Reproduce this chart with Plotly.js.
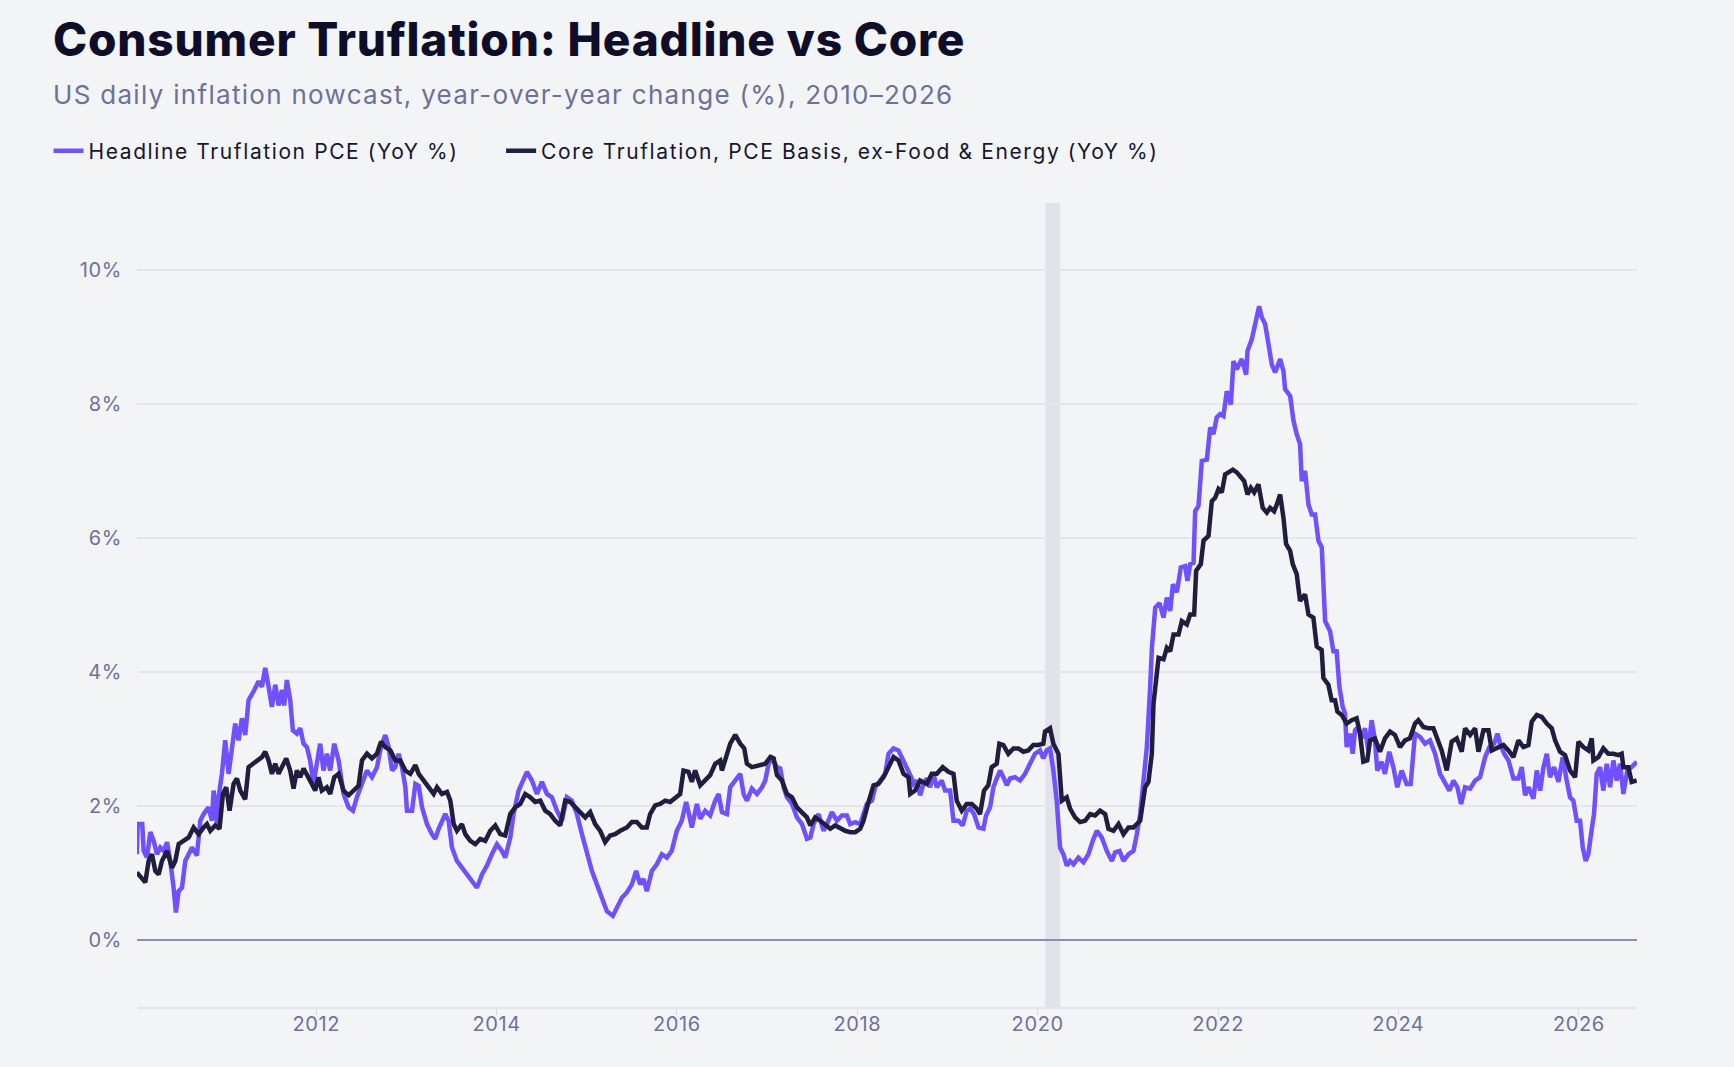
<!DOCTYPE html>
<html>
<head>
<meta charset="utf-8">
<script src="https://cdn.plot.ly/plotly-3.0.1.min.js"></script>
<style>
  html, body { margin: 0; padding: 0; background: #f3f4f6; }
  #chart { width: 1734px; height: 1067px; }
  .gtitle { letter-spacing: 0.8px; }
  .annotation-text { letter-spacing: 1.3px; }
  .legendtext { letter-spacing: 1.6px; }
  .xtick text, .ytick text { letter-spacing: 0.6px; }
</style>
</head>
<body>
<div id="chart"></div>
<script>
// ---- Data (decimal years, YoY %) ----
const headlineYears = [
2010.01,2010.02,2010.07,2010.086,2010.123,2010.160,2010.197,2010.234,2010.271,2010.308,2010.345,2010.381,2010.418,2010.444,2010.474,2010.511,2010.548,2010.585,2010.622,2010.677,2010.714,2010.751,2010.806,2010.843,2010.862,2010.899,2010.917,2010.954,2010.991,2011.028,2011.065,2011.102,2011.139,2011.176,2011.213,2011.250,2011.305,2011.361,2011.398,2011.435,2011.472,2011.509,2011.546,2011.583,2011.620,2011.645,2011.675,2011.712,2011.741,2011.786,2011.823,2011.860,2011.897,2011.933,2011.970,2012.007,2012.044,2012.081,2012.118,2012.155,2012.200,2012.248,2012.303,2012.359,2012.407,2012.451,2012.507,2012.562,2012.617,2012.673,2012.717,2012.765,2012.802,2012.839,2012.876,2012.913,2012.950,2012.987,2013.005,2013.061,2013.098,2013.135,2013.172,2013.227,2013.282,2013.319,2013.356,2013.393,2013.430,2013.467,2013.504,2013.559,2013.615,2013.670,2013.726,2013.781,2013.837,2013.892,2013.947,2014.003,2014.058,2014.095,2014.151,2014.188,2014.243,
2014.336,2014.391,2014.447,2014.502,2014.558,2014.613,2014.668,2014.724,2014.779,2014.835,2014.890,2014.946,2015.001,2015.057,2015.112,2015.167,2015.223,2015.289,2015.334,2015.389,2015.445,2015.500,2015.548,2015.592,2015.629,2015.666,2015.722,2015.777,2015.833,2015.888,2015.943,2015.999,2016.054,2016.102,2016.128,2016.165,2016.221,2016.258,2016.313,2016.368,2016.424,2016.461,2016.498,2016.553,2016.590,2016.646,2016.701,2016.738,2016.775,2016.830,2016.886,2016.941,2016.978,2017.015,2017.052,2017.107,2017.144,2017.181,2017.218,2017.274,2017.329,2017.385,2017.440,2017.477,2017.514,2017.569,2017.625,2017.662,2017.717,2017.773,2017.828,2017.883,2017.920,2017.976,2018.031,2018.068,2018.105,2018.161,2018.198,2018.253,2018.308,2018.345,2018.401,2018.456,2018.493,2018.549,2018.604,
2018.622,2018.659,2018.696,2018.733,2018.770,2018.807,2018.844,2018.881,2018.936,2018.973,2019.029,2019.066,2019.121,2019.169,2019.214,2019.251,2019.295,2019.343,2019.398,2019.428,2019.472,2019.509,2019.546,2019.583,2019.620,2019.657,2019.694,2019.749,2019.805,2019.860,2019.915,2019.971,2020.026,2020.063,2020.100,2020.137,2020.174,2020.211,2020.248,2020.285,2020.322,2020.359,2020.396,2020.451,2020.507,2020.562,2020.610,2020.655,2020.710,2020.765,2020.821,2020.858,2020.906,2020.950,2021.006,2021.061,2021.098,2021.135,2021.172,2021.209,2021.246,
2021.265,2021.302,2021.350,2021.394,2021.431,2021.468,2021.498,2021.542,2021.586,2021.634,2021.660,2021.690,2021.727,2021.745,2021.782,2021.819,2021.875,2021.912,2021.948,2021.985,2022.022,2022.059,2022.096,2022.141,2022.170,2022.207,2022.263,2022.311,2022.326,2022.374,2022.411,2022.455,2022.485,2022.522,2022.559,2022.595,2022.632,2022.688,2022.725,2022.743,2022.799,2022.836,2022.872,2022.909,2022.928,2022.965,2023.002,2023.039,2023.076,2023.113,2023.150,2023.187,2023.242,2023.279,
2023.315,2023.345,2023.382,2023.408,2023.426,2023.463,2023.493,2023.519,2023.556,2023.593,2023.629,2023.666,2023.703,2023.740,2023.766,2023.814,2023.851,2023.899,2023.944,2023.988,2024.036,2024.091,2024.136,2024.184,2024.239,2024.295,2024.350,2024.406,2024.461,2024.516,2024.564,2024.609,2024.653,2024.694,2024.738,2024.794,2024.849,2024.904,2024.960,2025.008,2025.060,2025.097,2025.126,2025.171,2025.219,2025.274,2025.329,2025.366,2025.403,2025.440,2025.496,2025.533,2025.570,2025.607,2025.644,2025.680,2025.725,2025.773,2025.821,2025.865,2025.902,2025.939,2025.976,2026.013,2026.043,2026.076,2026.105,2026.135,2026.168,2026.198,2026.235,2026.272,2026.309,2026.346,2026.383,2026.420,2026.457,2026.494,2026.538,2026.586,2026.641
];
const headlineValues = [
1.28,1.73,1.73,1.33,1.23,1.61,1.48,1.28,1.38,1.33,1.46,1.18,0.78,0.41,0.73,0.78,1.18,1.28,1.38,1.26,1.78,1.88,1.98,1.78,2.23,1.73,2.13,2.48,2.98,2.48,2.93,3.23,2.98,3.31,3.06,3.58,3.71,3.86,3.78,4.06,3.78,3.48,3.81,3.50,3.73,3.50,3.88,3.58,3.13,3.08,3.16,2.93,2.88,2.68,2.33,2.68,2.93,2.53,2.78,2.53,2.93,2.68,2.18,1.98,1.93,2.13,2.33,2.53,2.43,2.58,2.88,3.06,2.88,2.53,2.58,2.78,2.58,2.28,1.93,1.93,2.33,2.30,1.98,1.73,1.58,1.51,1.66,1.78,1.88,1.78,1.38,1.18,1.08,0.98,0.86,0.78,0.98,1.11,1.28,1.43,1.33,1.23,1.53,1.88,2.23,
2.51,2.38,2.18,2.36,2.18,2.13,1.93,1.78,2.13,2.08,1.88,1.58,1.28,1.03,0.83,0.63,0.43,0.36,0.48,0.63,0.71,0.83,1.03,0.83,0.91,0.73,1.03,1.13,1.28,1.23,1.33,1.63,1.78,2.06,1.91,1.68,2.03,1.81,1.93,1.86,2.08,2.18,1.91,1.88,2.28,2.38,2.48,2.18,2.08,2.26,2.18,2.28,2.38,2.63,2.71,2.58,2.56,2.28,2.13,2.03,1.83,1.73,1.51,1.53,1.73,1.88,1.63,1.73,1.91,1.78,1.86,1.86,1.73,1.76,1.73,1.88,2.03,2.08,2.28,2.38,2.48,2.78,2.86,2.83,2.73,2.58,2.41,
2.33,2.38,2.16,2.33,2.41,2.28,2.48,2.28,2.38,2.23,2.23,1.78,1.78,1.71,1.93,1.96,1.88,1.68,1.66,1.86,1.98,2.28,2.41,2.53,2.43,2.31,2.41,2.43,2.38,2.48,2.63,2.78,2.83,2.71,2.83,2.86,2.53,2.08,1.38,1.28,1.11,1.18,1.13,1.23,1.16,1.28,1.48,1.63,1.53,1.33,1.18,1.31,1.33,1.18,1.28,1.33,1.58,1.88,2.38,2.88,3.78,
4.36,4.96,5.03,4.81,5.11,4.91,5.31,5.19,5.56,5.58,5.36,5.61,5.63,6.40,6.48,7.15,7.17,7.65,7.55,7.80,7.85,7.82,8.19,7.99,8.64,8.52,8.67,8.44,8.79,8.97,9.19,9.46,9.29,9.19,8.89,8.59,8.47,8.67,8.49,8.22,8.12,7.75,7.55,7.40,6.85,7.00,6.50,6.35,6.35,5.96,5.86,4.76,4.61,4.31,
4.31,3.78,3.48,3.38,2.88,3.08,2.78,3.13,3.18,3.01,3.16,2.83,3.28,2.98,2.53,2.66,2.48,2.81,2.58,2.28,2.53,2.33,2.33,3.08,3.03,2.93,2.98,2.78,2.48,2.33,2.23,2.38,2.28,2.03,2.28,2.26,2.38,2.43,2.73,2.88,2.93,3.08,2.93,2.78,2.68,2.41,2.41,2.58,2.16,2.28,2.11,2.53,2.23,2.58,2.78,2.43,2.58,2.36,2.73,2.38,2.13,2.08,1.78,1.78,1.38,1.18,1.28,1.58,1.88,2.48,2.58,2.23,2.63,2.28,2.68,2.38,2.63,2.18,2.53,2.58,2.66
];

const coreYears = [
2010.01,2010.067,2010.104,2010.141,2010.178,2010.215,2010.252,2010.289,2010.345,2010.400,2010.437,2010.474,2010.529,2010.585,2010.640,2010.696,2010.751,2010.788,2010.825,2010.880,2010.928,2010.965,2011.002,2011.039,2011.084,2011.121,2011.158,2011.213,2011.250,2011.305,2011.361,2011.398,2011.435,2011.472,2011.509,2011.546,2011.583,2011.620,2011.668,2011.712,2011.749,2011.786,2011.823,2011.860,2011.897,2011.952,2011.989,2012.026,2012.063,2012.118,2012.155,2012.200,2012.248,2012.303,2012.359,2012.414,2012.469,2012.507,2012.562,2012.617,2012.673,2012.717,2012.765,2012.821,2012.876,2012.931,2012.987,2013.042,2013.098,2013.135,2013.190,2013.245,2013.301,2013.338,2013.393,2013.449,2013.486,2013.523,2013.559,2013.615,2013.652,2013.707,2013.763,2013.818,2013.874,2013.929,2013.985,2014.040,2014.095,2014.151,2014.206,2014.262,
2014.317,2014.373,2014.428,2014.484,2014.539,2014.595,2014.650,2014.705,2014.761,2014.816,2014.872,2014.927,2014.983,2015.038,2015.093,2015.149,2015.204,2015.260,2015.315,2015.371,2015.445,2015.500,2015.555,2015.611,2015.666,2015.703,2015.759,2015.814,2015.870,2015.925,2015.980,2016.036,2016.073,2016.128,2016.165,2016.202,2016.258,2016.313,2016.368,2016.424,2016.479,2016.498,2016.535,2016.590,2016.646,2016.701,2016.745,2016.775,2016.830,2016.904,2016.978,2017.034,2017.071,2017.108,2017.163,2017.218,2017.274,2017.329,2017.385,2017.440,2017.477,2017.532,2017.588,2017.643,2017.699,2017.754,2017.810,2017.865,2017.920,2017.976,2018.031,2018.068,2018.124,2018.179,2018.235,2018.290,2018.345,2018.401,2018.456,2018.512,2018.567,2018.586,
2018.640,2018.696,2018.770,2018.825,2018.881,2018.947,2019.010,2019.066,2019.102,2019.158,2019.213,2019.269,2019.324,2019.361,2019.405,2019.453,2019.490,2019.546,2019.575,2019.620,2019.675,2019.731,2019.786,2019.841,2019.897,2019.952,2020.008,2020.063,2020.082,2020.137,2020.174,2020.230,2020.267,2020.322,2020.359,2020.414,2020.470,2020.525,2020.581,2020.636,2020.691,2020.747,2020.784,2020.839,2020.895,2020.950,2021.006,2021.061,2021.135,2021.190,2021.227,2021.264,2021.283,
2021.320,2021.339,2021.394,2021.431,2021.468,2021.505,2021.561,2021.597,2021.653,2021.690,2021.734,2021.756,2021.808,2021.838,2021.893,2021.930,2021.967,2022.004,2022.041,2022.078,2022.115,2022.163,2022.207,2022.252,2022.289,2022.326,2022.363,2022.400,2022.447,2022.495,2022.540,2022.577,2022.621,2022.651,2022.688,2022.725,2022.754,2022.799,2022.828,2022.872,2022.909,2022.965,2023.002,2023.057,
2023.094,2023.149,2023.168,2023.223,2023.260,2023.297,2023.323,2023.371,2023.426,2023.482,2023.537,2023.574,2023.611,2023.655,2023.685,2023.740,2023.796,2023.851,2023.907,2023.962,2024.018,2024.073,2024.128,2024.184,2024.221,2024.276,2024.332,2024.387,2024.424,2024.479,2024.535,2024.590,2024.646,2024.701,2024.738,2024.794,2024.849,2024.886,2024.941,2024.997,2025.034,2025.089,2025.163,2025.219,2025.274,2025.329,2025.385,2025.440,2025.477,2025.533,2025.588,2025.644,2025.699,2025.736,2025.791,2025.847,2025.902,2025.958,2025.995,2026.050,2026.105,2026.143,2026.161,2026.216,2026.272,2026.327,2026.383,2026.438,2026.475,2026.494,2026.549,2026.586,2026.641
];
const coreValues = [
1.01,0.93,0.86,1.18,1.28,1.03,0.98,1.18,1.33,1.08,1.18,1.43,1.48,1.53,1.68,1.58,1.68,1.73,1.63,1.71,1.66,2.18,2.28,1.93,2.33,2.41,2.23,2.10,2.58,2.63,2.68,2.73,2.81,2.68,2.48,2.63,2.48,2.58,2.71,2.53,2.26,2.53,2.43,2.56,2.48,2.33,2.23,2.43,2.23,2.28,2.18,2.43,2.48,2.23,2.16,2.23,2.30,2.68,2.78,2.71,2.78,2.96,2.88,2.83,2.68,2.68,2.53,2.48,2.61,2.48,2.38,2.28,2.18,2.28,2.18,2.21,2.08,1.73,1.63,1.73,1.58,1.48,1.43,1.51,1.48,1.63,1.71,1.58,1.56,1.88,1.98,2.03,
2.18,2.13,2.06,2.08,1.93,1.88,1.78,1.71,2.08,2.06,1.98,1.91,1.83,1.91,1.73,1.63,1.46,1.56,1.58,1.63,1.68,1.76,1.76,1.68,1.68,1.88,2.01,2.03,2.08,2.06,2.13,2.18,2.53,2.51,2.36,2.53,2.31,2.38,2.46,2.63,2.68,2.53,2.71,2.93,3.06,2.93,2.86,2.63,2.58,2.61,2.63,2.73,2.71,2.46,2.38,2.18,2.13,1.98,1.91,1.83,1.71,1.83,1.78,1.73,1.66,1.71,1.66,1.63,1.61,1.61,1.66,1.78,2.06,2.31,2.33,2.43,2.58,2.73,2.68,2.48,2.43,2.18,
2.23,2.38,2.33,2.48,2.48,2.58,2.51,2.48,2.08,1.93,2.03,2.03,1.96,1.88,2.23,2.31,2.58,2.63,2.93,2.91,2.78,2.86,2.86,2.81,2.83,2.91,2.91,2.93,3.11,3.16,2.93,2.78,2.08,2.13,1.96,1.83,1.76,1.78,1.88,1.86,1.93,1.88,1.66,1.63,1.73,1.58,1.68,1.68,1.78,2.28,2.36,2.78,3.53,
4.00,4.21,4.19,4.36,4.31,4.56,4.56,4.76,4.71,4.86,4.86,5.51,5.61,5.96,6.03,6.55,6.60,6.73,6.68,6.95,6.98,7.02,6.98,6.90,6.85,6.65,6.75,6.68,6.80,6.45,6.38,6.45,6.40,6.50,6.65,6.30,5.91,5.81,5.61,5.46,5.06,5.16,4.86,4.81,
4.38,4.33,3.91,3.81,3.58,3.58,3.41,3.36,3.23,3.28,3.31,3.08,2.66,2.68,2.98,3.01,2.81,3.01,3.11,3.06,2.88,2.98,3.01,3.23,3.28,3.18,3.16,3.16,3.03,2.83,2.53,2.96,3.01,2.81,3.16,3.06,3.16,2.81,3.13,3.13,2.83,2.86,2.91,2.83,2.73,2.98,2.88,2.91,3.26,3.36,3.33,3.23,3.16,2.98,2.81,2.76,2.53,2.43,2.96,2.88,2.83,3.01,2.68,2.73,2.86,2.78,2.78,2.76,2.78,2.58,2.58,2.36,2.38
];

const seriesNames = ['Headline Truflation PCE (YoY %)', 'Core Truflation, PCE Basis, ex-Food & Energy (YoY %)'];
const recession = { start: '2020-02-01', end: '2020-04-01' };
const yTicks = [0, 2, 4, 6, 8, 10];
const yTickLabels = ['0%', '2%', '4%', '6%', '8%', '10%'];

// ---- helpers ----
function yearToDate(d) {
  const y = Math.floor(d);
  const a = Date.UTC(y, 0, 1), b = Date.UTC(y + 1, 0, 1);
  const t = new Date(a + (d - y) * (b - a));
  return t.toISOString().slice(0, 19).replace('T', ' ');
}

const FONT = 'Inter, "Noto Sans", sans-serif';
const PURPLE = '#7050ff';
const NAVY = '#1f1f3d';
const LEGEND_PAD = '\u00a0\u00a0\u00a0\u00a0\u00a0'; // spacing after first legend entry

const traces = [
  {
    x: headlineYears.map(yearToDate), y: headlineValues,
    type: 'scatter', mode: 'lines', name: seriesNames[0] + LEGEND_PAD,
    line: { color: PURPLE, width: 4.5 }, hoverinfo: 'skip'
  },
  {
    x: coreYears.map(yearToDate), y: coreValues,
    type: 'scatter', mode: 'lines', name: seriesNames[1],
    line: { color: NAVY, width: 4.5 }, hoverinfo: 'skip'
  }
];

const layout = {
  width: 1734, height: 1067,
  paper_bgcolor: '#f3f4f6', plot_bgcolor: '#f3f4f6',
  margin: { l: 137, r: 97, t: 203, b: 60 },
  font: { family: FONT, color: '#6b6e9a' },
  title: {
    text: 'Consumer Truflation: Headline vs Core',
    x: 53 / 1734, xref: 'container', xanchor: 'left',
    y: 1 - 40 / 1067, yref: 'container', yanchor: 'middle',
    font: { family: FONT, size: 46, weight: 800, color: '#0e0e2a' }
  },
  annotations: [{
    text: 'US daily inflation nowcast, year-over-year change (%), 2010–2026',
    xref: 'paper', yref: 'paper', x: -0.0575, y: (1007 - 94) / 804,
    xanchor: 'left', yanchor: 'middle', showarrow: false,
    font: { family: FONT, size: 26, color: '#6e7099' }
  }],
  legend: {
    orientation: 'h', x: -0.059, xanchor: 'left', y: (1007 - 151) / 804, yanchor: 'middle',
    font: { family: FONT, size: 21, color: '#16162e' }, itemwidth: 30,
    bgcolor: 'rgba(0,0,0,0)', traceorder: 'normal'
  },
  showlegend: true,
  xaxis: {
    type: 'date',
    range: [yearToDate(2010.012), yearToDate(2026.645)],
    tick0: '2012-01-01', dtick: 'M24', tickformat: '%Y',
    showgrid: false, zeroline: false,
    showline: true, linecolor: '#e3e4ee', linewidth: 1.5,
    ticks: 'outside', ticklen: 6, tickwidth: 1, tickcolor: '#d8d9e6',
    ticklabelstandoff: -8,
    tickfont: { family: FONT, size: 20, color: '#6e7199' }
  },
  yaxis: {
    range: [-1, 11], tickvals: yTicks, ticktext: yTickLabels,
    showgrid: true, gridcolor: '#e4e5ef', gridwidth: 1.5,
    zeroline: true, zerolinecolor: '#8b8eb0', zerolinewidth: 1.5,
    showline: false, ticks: '', ticklabelstandoff: 14,
    tickfont: { family: FONT, size: 20, color: '#6e7199' }
  },
  shapes: [{
    type: 'rect', xref: 'x', yref: 'paper',
    x0: recession.start, x1: recession.end, y0: 0, y1: 1,
    fillcolor: '#e2e2ea', line: { width: 0 }, layer: 'below'
  }]
};

Plotly.newPlot('chart', traces, layout, { displayModeBar: false, staticPlot: true });
</script>
</body>
</html>
